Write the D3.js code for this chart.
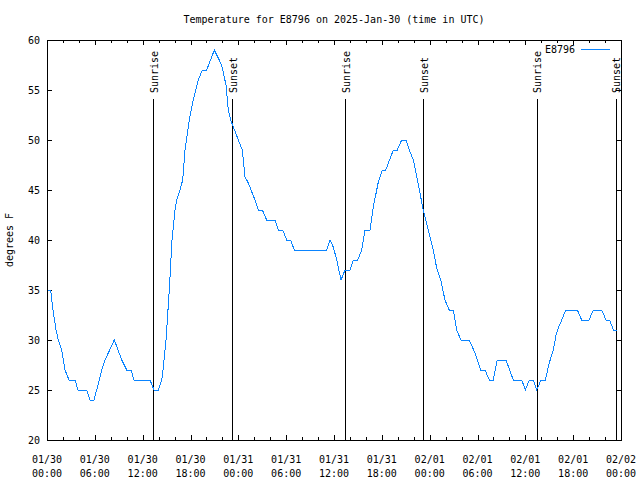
<!DOCTYPE html>
<html>
<head>
<meta charset="utf-8">
<script src="https://cdn.jsdelivr.net/npm/d3@7/dist/d3.min.js"></script>
<style>
  html, body { margin: 0; padding: 0; background: #fff; }
  svg { display: block; }
  text { font-family: "DejaVu Sans Mono", "Liberation Mono", monospace; font-size: 10px; fill: #000; }
</style>
</head>
<body>
<div id="chart"></div>
<script>
// ---- Data (hours since 2025-01-30 00:00 UTC) ----
const seriesName = "E8796";
const hours = [0, 0.46, 0.75, 1.13, 1.42, 1.84, 2.26, 2.76, 3.51, 3.89, 4.98, 5.39, 5.89, 6.23, 6.86, 7.28,
  8.44, 8.91, 9.37, 10.0, 10.54, 10.91, 12.92, 13.42, 13.96, 14.39, 14.55, 14.93, 15.34, 15.68, 16.06,
  16.27, 16.68, 17.02, 17.31, 17.85, 18.35, 18.98, 19.48, 20.03, 20.99, 21.91, 22.45, 22.74, 23.04,
  23.37, 24.0, 24.5, 24.84, 25.25, 26.09, 26.51, 27.01, 27.56, 28.6, 29.01, 29.57, 30.07, 30.57, 31.02,
  35.09, 35.5, 35.91, 36.34, 36.88, 37.38, 38.01, 38.42, 38.97, 39.48, 39.89, 40.52, 40.93, 41.56,
  42.06, 42.49, 43.44, 43.94, 44.49, 45.03, 45.45, 45.95, 46.58, 47.2, 47.83, 48.46, 48.88, 49.39,
  49.92, 50.46, 50.97, 51.39, 51.93, 52.97, 53.69, 54.4, 54.94, 55.48, 55.98, 56.48, 57.58, 58.49,
  59.55, 60.0, 60.5, 61.0, 61.43, 61.97, 62.51, 62.88, 63.18, 63.51, 63.85, 64.14, 64.56, 65.06,
  66.52, 67.07, 67.99, 68.53, 69.58, 70.12, 70.58, 71.04, 71.56];
const temps = [35, 35, 33, 31, 30, 29, 27, 26, 26, 25, 25, 24, 24, 25, 27, 28,
  30, 29, 28, 27, 27, 26, 26, 25, 25, 26, 27, 30, 35, 40, 43,
  44, 45, 46, 49, 52, 54, 56, 57, 57, 59, 57.5, 55.5, 53, 52,
  51.3, 50, 49, 46.3, 45.7, 44, 43, 43, 42, 42, 41, 41, 40, 40, 39,
  39, 40, 39.3, 38, 36, 37, 37, 38, 38, 39, 41, 41, 43.3, 45.8,
  47, 47, 49, 49, 50, 50, 49, 48, 45.5, 43, 41, 39, 37.2, 36,
  34, 33, 33, 31, 30, 30, 28.7, 27, 27, 26, 26, 28, 28, 26,
  26, 25, 26, 26, 25, 26, 26, 27.3, 28.2, 29, 30.5, 31.2, 32, 33,
  33, 32, 32, 33, 33, 32, 32, 31, 31];
const sunLabels = ["Sunrise", "Sunset", "Sunrise", "Sunset", "Sunrise", "Sunset"];
const sunHours = [13.31, 23.24, 37.42, 47.2, 61.43, 71.34];
const yTicks = [20, 25, 30, 35, 40, 45, 50, 55, 60];
const titleText = "Temperature for E8796 on 2025-Jan-30 (time in UTC)";
const yLabel = "degrees F";

// ---- Layout ----
const W = 640, H = 480;
const L = 47, R = 621, T = 40, B = 440;
const t0 = Date.UTC(2025, 0, 30, 0, 0);
const toDate = h => new Date(t0 + h * 3600e3);

const x = d3.scaleUtc().domain([toDate(0), toDate(72)]).range([L, R]);
const y = d3.scaleLinear().domain([20, 60]).range([B, T]);

const svg = d3.select("#chart").append("svg").attr("width", W).attr("height", H);

const data = hours.map((h, i) => ({ t: toDate(h), v: temps[i] }));

// Minor & major ticks (x, bottom and top)
const minor = d3.utcHour.every(2).range(toDate(0), toDate(72.01));
const major = d3.utcHour.every(6).range(toDate(0), toDate(72.01));
const tickG = svg.append("g").attr("stroke", "#000").attr("shape-rendering", "crispEdges");
tickG.selectAll("line.mb").data(minor).join("line")
  .attr("x1", d => Math.round(x(d)) + 0.5).attr("x2", d => Math.round(x(d)) + 0.5)
  .attr("y1", B).attr("y2", B - 3);
tickG.selectAll("line.mt").data(minor).join("line")
  .attr("x1", d => Math.round(x(d)) + 0.5).attr("x2", d => Math.round(x(d)) + 0.5)
  .attr("y1", T).attr("y2", T + 3);
svg.append("g").attr("transform", `translate(0,${B})`)
  .call(d3.axisBottom(x).tickValues(major).tickSizeInner(-5).tickSizeOuter(0).tickFormat(""))
  .call(g => g.select(".domain").remove())
  .attr("shape-rendering", "crispEdges");
svg.append("g").attr("transform", `translate(0,${T})`)
  .call(d3.axisTop(x).tickValues(major).tickSizeInner(-5).tickSizeOuter(0).tickFormat(""))
  .call(g => g.select(".domain").remove())
  .attr("shape-rendering", "crispEdges");
svg.append("g").attr("transform", `translate(${L},0)`)
  .call(d3.axisLeft(y).tickValues(yTicks).tickSizeInner(-5).tickSizeOuter(0).tickFormat(""))
  .call(g => g.select(".domain").remove())
  .attr("shape-rendering", "crispEdges");
svg.append("g").attr("transform", `translate(${R},0)`)
  .call(d3.axisRight(y).tickValues(yTicks).tickSizeInner(-5).tickSizeOuter(0).tickFormat(""))
  .call(g => g.select(".domain").remove())
  .attr("shape-rendering", "crispEdges");

// Y tick labels
svg.append("g").selectAll("text").data(yTicks).join("text")
  .attr("x", L - 7).attr("y", d => y(d)).attr("dy", "0.35em")
  .attr("text-anchor", "end").text(d => d);

// X tick labels (two lines)
const fmtD = d3.utcFormat("%m/%d"), fmtT = d3.utcFormat("%H:%M");
const xl = svg.append("g").selectAll("text").data(major).join("text")
  .attr("text-anchor", "middle");
xl.append("tspan").attr("x", d => x(d)).attr("y", 463).text(d => fmtD(d));
xl.append("tspan").attr("x", d => x(d)).attr("y", 477).text(d => fmtT(d));

// Sunrise / sunset lines
const sun = svg.append("g");
sun.selectAll("line").data(sunHours).join("line")
  .attr("x1", d => Math.round(x(toDate(d))) + 0.5).attr("x2", d => Math.round(x(toDate(d))) + 0.5)
  .attr("y1", 99).attr("y2", B).attr("stroke", "#000").attr("shape-rendering", "crispEdges");
sun.selectAll("text").data(sunHours).join("text")
  .attr("transform", d => `translate(${x(toDate(d)) + 1},93) rotate(-90)`)
  .attr("text-anchor", "start").attr("dy", "0.35em")
  .text((d, i) => sunLabels[i]);

// Temperature line
const line = d3.line().x(d => x(d.t)).y(d => y(d.v));
svg.append("path").datum(data)
  .attr("fill", "none").attr("stroke", "#0a84ff").attr("stroke-width", 1)
  .attr("shape-rendering", "crispEdges")
  .attr("d", line);

// Frame
svg.append("rect").attr("x", L + 0.5).attr("y", T + 0.5)
  .attr("width", R - L).attr("height", B - T)
  .attr("fill", "none").attr("stroke", "#000").attr("shape-rendering", "crispEdges");

// Title
svg.append("text").attr("x", (L + R) / 2).attr("y", 23)
  .attr("text-anchor", "middle").text(titleText);

// Y label
svg.append("text").attr("transform", `translate(13,${(T + B) / 2}) rotate(-90)`)
  .attr("text-anchor", "middle").text(yLabel);

// Legend
svg.append("text").attr("x", 575).attr("y", 53).attr("text-anchor", "end").text(seriesName);
svg.append("line").attr("x1", 581).attr("x2", 610).attr("y1", 49.5).attr("y2", 49.5)
  .attr("stroke", "#0a84ff").attr("shape-rendering", "crispEdges");
</script>
</body>
</html>
